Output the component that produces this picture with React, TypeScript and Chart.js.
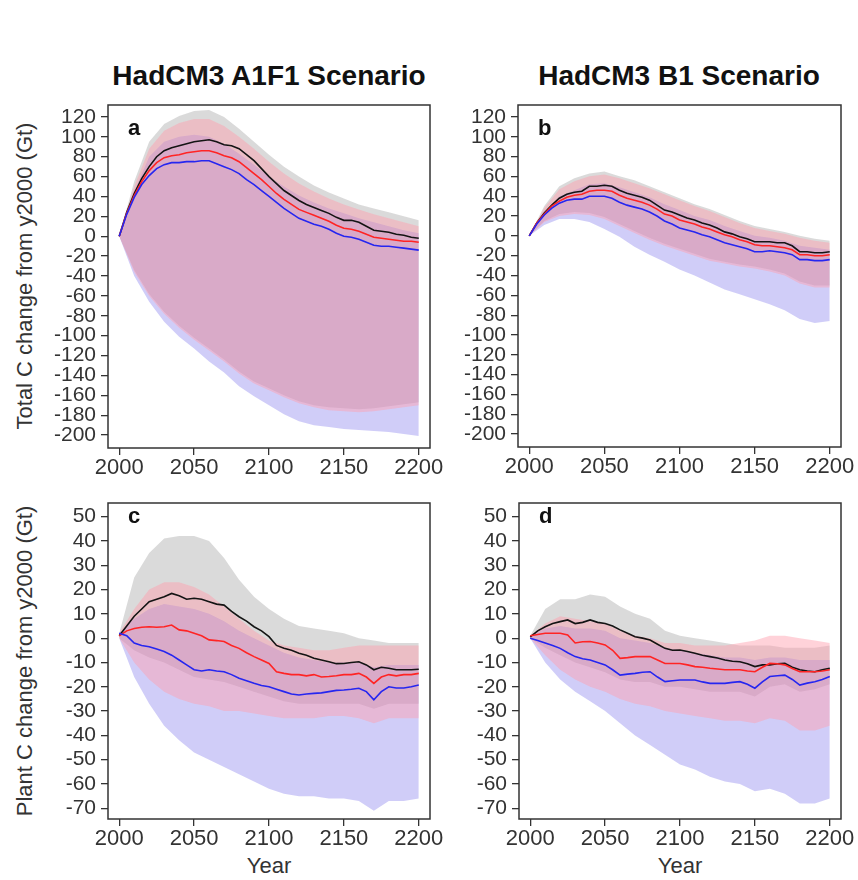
import React, { useEffect, useRef } from "react";
import { Chart, registerables } from "chart.js";
Chart.register(...registerables);

// ---------- axes / ticks ----------
const YEARS_5 = [2000, 2005, 2010, 2015, 2020, 2025, 2030, 2035, 2040, 2045, 2050, 2055, 2060, 2065, 2070, 2075, 2080, 2085, 2090, 2095, 2100, 2105, 2110, 2115, 2120, 2125, 2130, 2135, 2140, 2145, 2150, 2155, 2160, 2165, 2170, 2175, 2180, 2185, 2190, 2195, 2200];
const YEARS_10 = [2000, 2010, 2020, 2030, 2040, 2050, 2060, 2070, 2080, 2090, 2100, 2110, 2120, 2130, 2140, 2150, 2160, 2170, 2180, 2190, 2200];
const X_TICKS = [2000, 2050, 2100, 2150, 2200];
const Y_TICKS_TOTAL = [120, 100, 80, 60, 40, 20, 0, -20, -40, -60, -80, -100, -120, -140, -160, -180, -200];
const Y_TICKS_PLANT = [50, 40, 30, 20, 10, 0, -10, -20, -30, -40, -50, -60, -70];

// ---------- panel a : A1F1 total C ----------
const blackA = [0, 24, 43, 58, 70, 80, 86, 89, 91, 93, 95, 96, 97, 95, 92, 91, 88, 82, 76, 68, 60, 53, 46, 41, 36, 32, 29, 26, 23, 19, 16, 16, 14, 10, 6, 5, 4, 2, 1, -1, -2];
const redA = [0, 23, 41, 55, 66, 74, 79, 81, 82, 84, 85, 86, 86, 84, 81, 79, 75, 69, 63, 57, 50, 43, 37, 32, 27, 24, 21, 18, 15, 11, 8, 7, 5, 2, -1, -2, -3, -4, -5, -5, -6];
const blueA = [0, 22, 39, 52, 61, 68, 72, 74, 74, 75, 75, 76, 76, 73, 70, 67, 63, 57, 52, 46, 40, 34, 28, 23, 18, 15, 12, 10, 7, 3, 0, -1, -3, -6, -9, -10, -10, -11, -12, -13, -14];
const greyUpA = [0, 55, 95, 113, 121, 126, 127, 120, 108, 95, 82, 70, 60, 51, 44, 38, 32, 28, 24, 20, 16];
const greyLoA = [0, -34, -58, -76, -90, -102, -113, -124, -136, -146, -153, -160, -166, -170, -172, -173, -174, -173, -171, -169, -167];
const blueUpA = [0, 45, 80, 95, 100, 102, 100, 93, 83, 72, 60, 50, 41, 34, 28, 23, 18, 14, 10, 6, 3];
const blueLoA = [0, -40, -66, -86, -101, -113, -126, -137, -151, -161, -170, -179, -186, -190, -192, -194, -195, -196, -197, -199, -201];
const redUpA = [0, 50, 88, 106, 114, 118, 118, 111, 100, 88, 75, 63, 53, 45, 38, 32, 27, 22, 18, 14, 10];
const redLoA = [0, -36, -60, -78, -92, -104, -115, -126, -138, -148, -155, -162, -168, -172, -175, -176, -177, -176, -174, -172, -170];

// ---------- panel b : B1 total C ----------
const blackB = [0, 13, 23, 31, 38, 42, 44, 45, 50, 50, 51, 50, 46, 43, 41, 39, 36, 31, 26, 24, 21, 18, 16, 13, 11, 8, 4, 2, -1, -3, -6, -6, -6, -7, -7, -10, -16, -16, -17, -17, -16];
const redB = [0, 13, 22, 30, 35, 39, 41, 42, 45, 46, 46, 45, 41, 38, 36, 34, 31, 27, 22, 20, 16, 14, 12, 9, 7, 4, 1, -1, -4, -6, -9, -10, -10, -11, -12, -14, -19, -19, -20, -20, -19];
const blueB = [0, 12, 21, 28, 33, 36, 37, 37, 40, 40, 40, 38, 34, 31, 29, 27, 24, 20, 15, 12, 8, 6, 4, 1, -1, -4, -7, -9, -11, -13, -16, -16, -15, -16, -17, -19, -24, -24, -25, -25, -24];
const greyUpB = [0, 30, 50, 58, 63, 65, 60, 56, 50, 44, 38, 32, 27, 21, 15, 10, 7, 4, 0, -3, -5];
const greyLoB = [0, 15, 22, 24, 23, 19, 12, 5, -2, -8, -13, -18, -23, -26, -29, -31, -34, -38, -46, -50, -50];
const blueUpB = [0, 22, 40, 46, 52, 53, 49, 44, 39, 32, 26, 20, 16, 10, 5, 0, -2, -5, -10, -12, -14];
const blueLoB = [0, 11, 17, 17, 14, 7, -1, -11, -19, -26, -34, -40, -47, -54, -59, -64, -69, -75, -84, -88, -86];
const redUpB = [0, 28, 47, 55, 60, 62, 58, 53, 48, 42, 36, 30, 25, 19, 13, 8, 5, 2, -2, -5, -7];
const redLoB = [0, 14, 20, 22, 21, 17, 10, 3, -4, -10, -15, -20, -25, -28, -31, -33, -36, -40, -48, -52, -52];

// ---------- panel c : A1F1 plant C ----------
const blackC = [1, 5, 9, 12, 15, 16, 17, 18.4, 17.4, 16, 16.4, 16, 15, 14, 13.6, 11, 8.8, 7, 4.7, 3, 0.6, -3, -4.2, -5, -6.2, -7, -8.3, -9, -9.7, -10.5, -10.4, -10, -9.7, -11, -13, -12, -12.4, -13, -13, -13, -12.8];
const redC = [1, 3, 4, 4.5, 4.7, 4.5, 4.7, 5.4, 3.4, 3, 2, 1, -0.7, -1, -1.4, -3, -4.2, -6, -7.6, -9, -10.4, -13.8, -14.5, -15, -15, -15.5, -15, -16, -15.8, -15.5, -15, -15, -14.5, -16, -18.6, -16, -15, -15.5, -15, -15, -14.5];
const blueC = [2, 1, -2, -3, -3.5, -4.5, -5.5, -7, -9, -11, -13, -13.5, -13, -13.5, -13.8, -15, -16.5, -17.5, -18.6, -19.5, -20, -21, -22, -23, -23.4, -23, -22.7, -22.5, -22, -21.5, -21.3, -21, -20.6, -22, -25.4, -22, -20, -20.5, -20.5, -20, -19.3];
const greyUpC = [2, 25, 35, 41, 42, 42, 40, 33, 24, 17, 12, 8, 5, 4, 3, 2, 0, -1, -2, -2, -2];
const greyLoC = [0, -5, -8, -10, -13, -16, -17, -18, -20, -22, -24, -26, -27, -27, -27, -27, -27, -29, -27, -27, -27];
const blueUpC = [2, 8, 12, 14, 13, 12, 10, 7, 3, 0, -3, -6, -8, -9, -10, -10, -10, -12, -11, -11, -11];
const blueLoC = [0, -16, -27, -36, -42, -47, -50, -53, -56, -59, -62, -64, -65, -65, -66, -66, -67, -71, -67, -67, -66];
const redUpC = [2, 12, 20, 23, 23, 21, 18, 13, 8, 3, -1, -3, -4, -5, -5, -4, -3, -3, -3, -3, -3];
const redLoC = [0, -10, -17, -22, -25, -27, -28, -30, -30, -31, -32, -33, -33, -33, -32, -32, -33, -35, -33, -33, -33];

// ---------- panel d : B1 plant C ----------
const blackD = [0.5, 3, 4.7, 6, 6.8, 7.5, 6, 6.5, 7.5, 6.5, 6, 5, 3.4, 2, 0.6, 0, -0.8, -2.5, -4.2, -5, -4.9, -5.5, -6.2, -7, -7.6, -8.2, -9, -9.5, -9.7, -10.5, -11.7, -11, -11, -10.5, -10.4, -12, -13, -13.5, -13.8, -13, -12.4];
const redD = [1, 1.5, 2, 2, 2, 1.3, -2, -1.5, -1.4, -2, -2.8, -5, -8.3, -8, -7.6, -7.6, -7.6, -9, -10.4, -10.4, -10.4, -11, -11.7, -12, -12.4, -12.7, -13, -13, -13, -13.5, -13.8, -12, -10.4, -10.5, -11, -12.5, -13.8, -13.8, -13.8, -13.5, -13];
const blueD = [0, -1, -2, -3, -4.2, -6, -7.6, -8.5, -9, -10, -11, -13, -15.2, -14.8, -14.5, -14, -13.8, -16, -17.9, -17.5, -17.2, -17.2, -17.2, -18, -18.6, -18.6, -18.6, -18.2, -17.9, -19, -20.6, -18, -15.8, -15.5, -15.2, -17, -19.3, -18.5, -17.9, -17, -15.8];
const greyUpD = [1, 12, 16, 16, 18, 17, 13, 10, 8, 3, 1, 0, -1, -2, -3, -3, -3, -4, -4, -4, -3];
const greyLoD = [0, -4, -7, -10, -12, -14, -17, -18, -18, -20, -20, -21, -22, -22, -22, -24, -20, -19, -22, -21, -19];
const blueUpD = [1, 4, 5, 4, 4, 3, 0, -1, -2, -4, -5, -6, -7, -8, -8, -9, -8, -8, -9, -9, -9];
const blueLoD = [0, -10, -17, -22, -26, -30, -35, -40, -44, -48, -52, -54, -57, -59, -60, -63, -62, -64, -68, -68, -66];
const redUpD = [1, 6, 9, 8, 7, 6, 3, 1, 0, -2, -2, -3, -3, -3, -2, -1, 1, 1, 0, -1, -2];
const redLoD = [0, -7, -13, -17, -20, -22, -25, -27, -28, -30, -31, -32, -33, -34, -34, -35, -33, -34, -38, -38, -36];

// ---------- style ----------
const FONT = "'Liberation Sans', Arial, Helvetica, sans-serif";
const AXIS_COLOR = "#333";
const GREY_FILL = "rgba(150,150,150,0.35)";
const BLUE_FILL = "rgba(98,88,232,0.30)";
const RED_FILL = "rgba(255,160,175,0.47)";
const BLACK_LINE = "#141414";
const RED_LINE = "#ff2424";
const BLUE_LINE = "#2626f0";

type Panel = {
  letter: string;
  letterDy: number;
  canvas: { left: number; top: number; w: number; h: number };
  pad: { left: number; right: number; top: number; bottom: number };
  yWidth: number;
  xHeight: number;
  yMin: number;
  yMax: number;
  yTicks: number[];
  lines: number[][];
  bands: number[][];
};

const PANELS: Panel[] = [
  {
    letter: "a", letterDy: 30,
    canvas: { left: 0, top: 95, w: 470, h: 390 },
    pad: { left: 0, right: 40, top: 10, bottom: 0 }, yWidth: 108, xHeight: 37,
    yMin: -213, yMax: 132, yTicks: Y_TICKS_TOTAL,
    lines: [blackA, redA, blueA],
    bands: [greyUpA, greyLoA, blueUpA, blueLoA, redUpA, redLoA],
  },
  {
    letter: "b", letterDy: 30,
    canvas: { left: 440, top: 95, w: 418, h: 390 },
    pad: { left: 0, right: 17, top: 10, bottom: 0 }, yWidth: 78, xHeight: 38,
    yMin: -213, yMax: 132, yTicks: Y_TICKS_TOTAL,
    lines: [blackB, redB, blueB],
    bands: [greyUpB, greyLoB, blueUpB, blueLoB, redUpB, redLoB],
  },
  {
    letter: "c", letterDy: 20,
    canvas: { left: 0, top: 485, w: 470, h: 395 },
    pad: { left: 0, right: 40, top: 18, bottom: 0 }, yWidth: 108, xHeight: 61,
    yMin: -74.4, yMax: 55.6, yTicks: Y_TICKS_PLANT,
    lines: [blackC, redC, blueC],
    bands: [greyUpC, greyLoC, blueUpC, blueLoC, redUpC, redLoC],
  },
  {
    letter: "d", letterDy: 20,
    canvas: { left: 440, top: 485, w: 418, h: 395 },
    pad: { left: 0, right: 17, top: 18, bottom: 0 }, yWidth: 79, xHeight: 61,
    yMin: -74.4, yMax: 55.6, yTicks: Y_TICKS_PLANT,
    lines: [blackD, redD, blueD],
    bands: [greyUpD, greyLoD, blueUpD, blueLoD, redUpD, redLoD],
  },
];

const toPts = (xs: number[], ys: number[]) => ys.map((y, i) => ({ x: xs[i], y }));

const boxPlugin = {
  id: "panelBox",
  afterDraw(chart: any, _args: any, opts: any) {
    const { ctx, chartArea: a } = chart;
    ctx.save();
    ctx.strokeStyle = AXIS_COLOR;
    ctx.lineWidth = 1.5;
    ctx.strokeRect(a.left, a.top, a.right - a.left, a.bottom - a.top);
    ctx.font = `bold 22px ${FONT}`;
    ctx.fillStyle = "#111";
    ctx.textBaseline = "alphabetic";
    ctx.textAlign = "left";
    ctx.fillText(opts.letter, a.left + 20, a.top + opts.dy);
    ctx.restore();
  },
};

function PanelChart({ p }: { p: Panel }) {
  const ref = useRef<HTMLCanvasElement | null>(null);
  useEffect(() => {
    if (!ref.current) return;
    const band = (up: number[], lo: number[], color: string, order: number) => [
      {
        data: toPts(YEARS_10, up), fill: "+1", backgroundColor: color,
        borderColor: "rgba(0,0,0,0)", borderWidth: 1, pointRadius: 0, order,
      },
      {
        data: toPts(YEARS_10, lo), fill: false, backgroundColor: "rgba(0,0,0,0)",
        borderColor: "rgba(0,0,0,0)", borderWidth: 1, pointRadius: 0, order,
      },
    ];
    const line = (ys: number[], color: string, order: number) => ({
      data: toPts(YEARS_5, ys), fill: false, borderColor: color, borderWidth: 1.6,
      pointRadius: 0, tension: 0, order,
    });
    const [gU, gL, bU, bL, rU, rL] = p.bands;
    const tickFont = { family: FONT, size: 21, lineHeight: 1 };
    const chart = new Chart(ref.current, {
      type: "line",
      data: {
        datasets: [
          ...band(gU, gL, GREY_FILL, 6),
          ...band(bU, bL, BLUE_FILL, 5),
          ...band(rU, rL, RED_FILL, 4),
          line(p.lines[0], BLACK_LINE, 3),
          line(p.lines[1], RED_LINE, 2),
          line(p.lines[2], BLUE_LINE, 1),
        ] as any,
      },
      options: {
        animation: false,
        responsive: false,
        maintainAspectRatio: false,
        layout: { padding: p.pad },
        plugins: {
          legend: { display: false },
          tooltip: { enabled: false },
          title: { display: false },
          panelBox: { letter: p.letter, dy: p.letterDy },
        } as any,
        scales: {
          x: {
            type: "linear",
            min: 1992.5,
            max: 2207.5,
            border: { display: false },
            grid: { drawOnChartArea: false, drawTicks: true, tickLength: 7, color: AXIS_COLOR, lineWidth: 1.3 },
            ticks: {
              color: "#333", font: { ...tickFont, size: 22 }, padding: 2, maxRotation: 0,
              autoSkip: false,
              callback: (v: any) => String(v),
            },
            afterBuildTicks: (s: any) => { s.ticks = X_TICKS.map((v) => ({ value: v })); },
            afterFit: (s: any) => {
              s.height = p.xHeight;
              s.paddingLeft = 0; s.paddingRight = 0; s.paddingTop = 0; s.paddingBottom = 0;
            },
          },
          y: {
            type: "linear",
            min: p.yMin,
            max: p.yMax,
            border: { display: false },
            grid: { drawOnChartArea: false, drawTicks: true, tickLength: 7, color: AXIS_COLOR, lineWidth: 1.3 },
            ticks: {
              color: "#333", font: tickFont, padding: 5,
              autoSkip: false,
              callback: (v: any) => String(v),
            },
            afterBuildTicks: (s: any) => { s.ticks = p.yTicks.map((v) => ({ value: v })); },
            afterFit: (s: any) => {
              s.width = p.yWidth;
              s.paddingLeft = 0; s.paddingRight = 0; s.paddingTop = 0; s.paddingBottom = 0;
            },
          },
        },
      } as any,
      plugins: [boxPlugin as any],
    });
    return () => chart.destroy();
  }, [p]);
  return (
    <canvas
      ref={ref}
      width={p.canvas.w}
      height={p.canvas.h}
      style={{ position: "absolute", left: p.canvas.left, top: p.canvas.top, width: p.canvas.w, height: p.canvas.h }}
    />
  );
}

const textBase: React.CSSProperties = { position: "absolute", fontFamily: FONT, whiteSpace: "nowrap", color: "#111" };

export default function App() {
  return (
    <div style={{ position: "absolute", left: 0, top: 0, width: 858, height: 880, background: "#fff", overflow: "hidden" }}>
      <div style={{ ...textBase, left: 69, width: 400, top: 62, fontSize: 28, lineHeight: "28px", fontWeight: "bold", textAlign: "center" }}>
        HadCM3 A1F1 Scenario
      </div>
      <div style={{ ...textBase, left: 479, width: 400, top: 62, fontSize: 28, lineHeight: "28px", fontWeight: "bold", textAlign: "center" }}>
        HadCM3 B1 Scenario
      </div>
      <div style={{ ...textBase, left: 25 - 170, top: 276 - 11, width: 340, height: 22, fontSize: 22, lineHeight: "22px", textAlign: "center", color: "#333", transform: "rotate(-90deg)" }}>
        Total C change from y2000 (Gt)
      </div>
      <div style={{ ...textBase, left: 25 - 170, top: 661 - 11, width: 340, height: 22, fontSize: 22, lineHeight: "22px", textAlign: "center", color: "#333", transform: "rotate(-90deg)" }}>
        Plant C change from y2000 (Gt)
      </div>
      <div style={{ ...textBase, left: 169, width: 200, top: 855, fontSize: 22, lineHeight: "22px", textAlign: "center", color: "#333" }}>
        Year
      </div>
      <div style={{ ...textBase, left: 580, width: 200, top: 855, fontSize: 22, lineHeight: "22px", textAlign: "center", color: "#333" }}>
        Year
      </div>
      {PANELS.map((p) => (
        <PanelChart key={p.letter} p={p} />
      ))}
    </div>
  );
}
